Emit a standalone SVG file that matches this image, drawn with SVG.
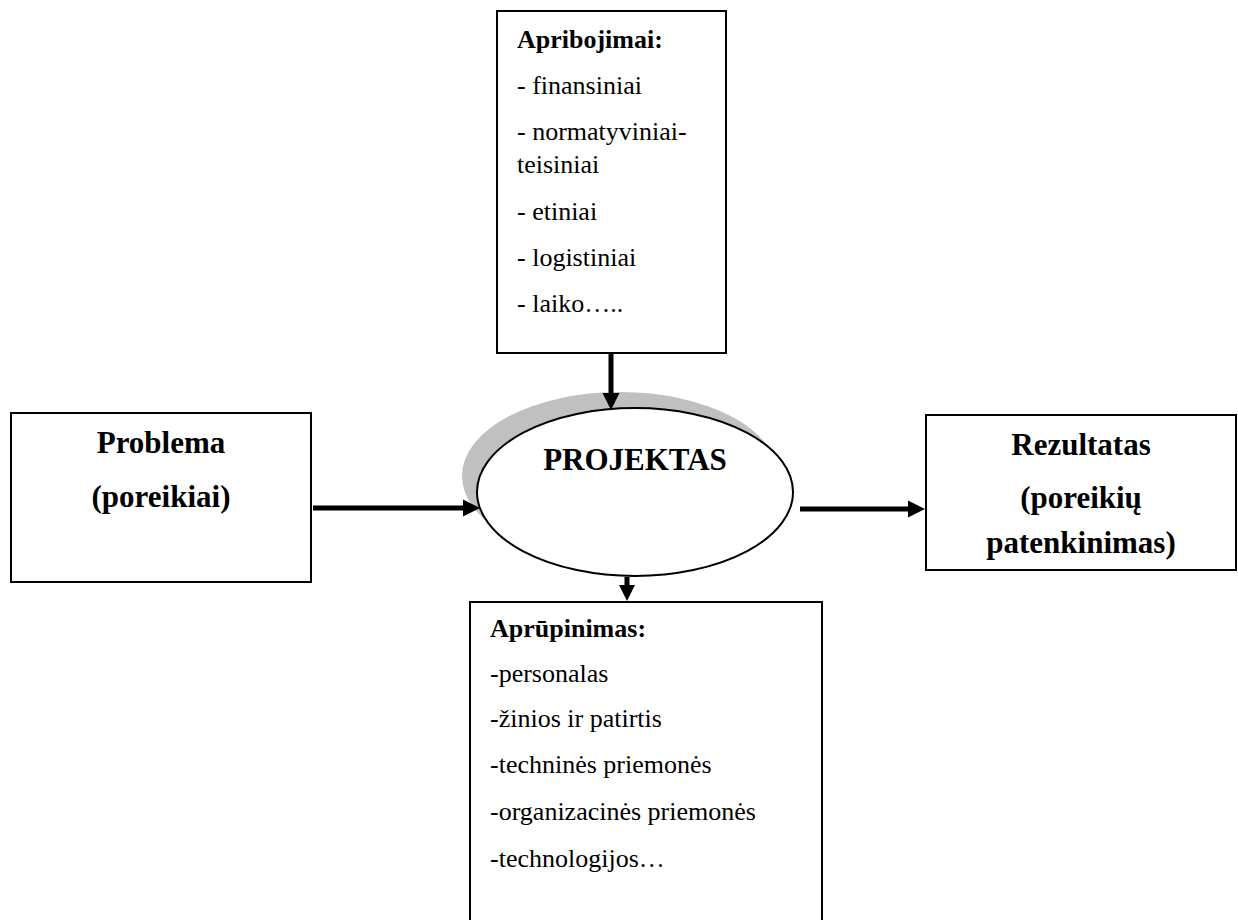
<svg xmlns="http://www.w3.org/2000/svg" width="1238" height="920" viewBox="0 0 1238 920">
<style>
.box{fill:#fff;stroke:#000;stroke-width:2}
text{font-family:'Liberation Serif','Times New Roman',Times,serif;fill:#000}
.b{font-weight:bold}
.big{font-size:31px}
.sm{font-size:26px}
.line{stroke:#000;stroke-width:5;fill:none}
.head{fill:#000}
</style>
<rect width="1238" height="920" fill="#fff"/>
<g id="node-apribojimai">
<rect class="box" x="497" y="11" width="229" height="342"/>
<text class="b sm" x="517" y="48" font-family="Liberation Serif, serif">Apribojimai:</text>
<text class="sm" x="517" y="94" font-family="Liberation Serif, serif">- finansiniai</text>
<text class="sm" x="517" y="140" font-family="Liberation Serif, serif">- normatyviniai-</text>
<text class="sm" x="517" y="173" font-family="Liberation Serif, serif">teisiniai</text>
<text class="sm" x="517" y="220" font-family="Liberation Serif, serif">- etiniai</text>
<text class="sm" x="517" y="266" font-family="Liberation Serif, serif">- logistiniai</text>
<text class="sm" x="517" y="312" font-family="Liberation Serif, serif">- laiko…..</text>
</g>
<g id="node-problema">
<rect class="box" x="11" y="413" width="300" height="169"/>
<text class="b big" x="161" y="453" text-anchor="middle" font-family="Liberation Serif, serif">Problema</text>
<text class="b big" x="161" y="507" text-anchor="middle" font-family="Liberation Serif, serif">(poreikiai)</text>
</g>
<g id="node-projektas">
<ellipse cx="620" cy="476" rx="158" ry="84" fill="#c0c0c0"/>
<ellipse cx="635" cy="492" rx="158" ry="84" fill="#fff" stroke="#000" stroke-width="2"/>
<text class="b big" x="635" y="470" text-anchor="middle" font-family="Liberation Serif, serif">PROJEKTAS</text>
</g>
<g id="node-rezultatas">
<rect class="box" x="926" y="415" width="310" height="155"/>
<text class="b big" x="1081" y="455" text-anchor="middle" font-family="Liberation Serif, serif">Rezultatas</text>
<text class="b big" x="1081" y="508" text-anchor="middle" font-family="Liberation Serif, serif">(poreikių</text>
<text class="b big" x="1081" y="553" text-anchor="middle" font-family="Liberation Serif, serif">patenkinimas)</text>
</g>
<g id="node-aprupinimas">
<rect class="box" x="470" y="602" width="352" height="330"/>
<text class="b sm" x="490" y="637" font-family="Liberation Serif, serif">Aprūpinimas:</text>
<text class="sm" x="490" y="682" font-family="Liberation Serif, serif">-personalas</text>
<text class="sm" x="490" y="727" font-family="Liberation Serif, serif">-žinios ir patirtis</text>
<text class="sm" x="490" y="773" font-family="Liberation Serif, serif">-techninės priemonės</text>
<text class="sm" x="490" y="820" font-family="Liberation Serif, serif">-organizacinės priemonės</text>
<text class="sm" x="490" y="867" font-family="Liberation Serif, serif">-technologijos…</text>
</g>
<g id="connectors">
<line class="line" x1="313" y1="508" x2="466" y2="508"/>
<polygon class="head" points="480,508 463,499.5 463,516.5"/>
<line class="line" x1="800" y1="509" x2="911" y2="509"/>
<polygon class="head" points="925,509 908,500.5 908,517.5"/>
<line class="line" x1="611" y1="353" x2="611" y2="396"/>
<polygon class="head" points="611,410 602.5,393 619.5,393"/>
<line class="line" x1="627" y1="577" x2="627" y2="588"/>
<polygon class="head" points="627,601 619,585 635,585"/>
</g>
</svg>
